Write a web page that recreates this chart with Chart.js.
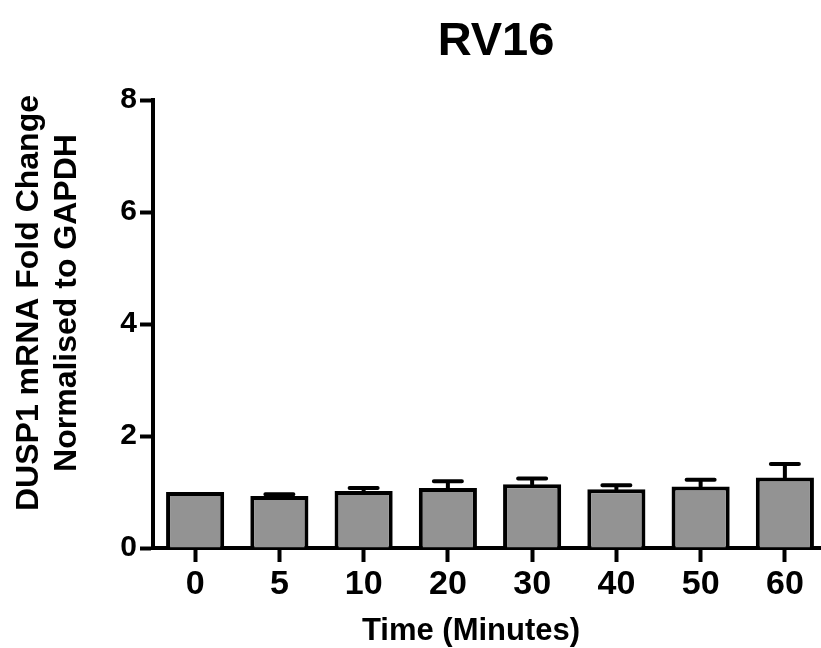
<!DOCTYPE html>
<html>
<head>
<meta charset="utf-8">
<script src="https://cdn.jsdelivr.net/npm/chart.js@4/dist/chart.umd.min.js"></script>
<style>
  html, body { margin: 0; padding: 0; background: #fff; overflow: hidden; }
  #wrap { position: relative; width: 840px; height: 648px; }
</style>
</head>
<body>
<div id="wrap"><canvas id="chart"></canvas></div>
<script>
const timePoints = ['0', '5', '10', '20', '30', '40', '50', '60'];
const foldChange = [1.0, 0.93, 1.02, 1.07, 1.14, 1.05, 1.10, 1.26];
const sem = [0, 0.03, 0.05, 0.12, 0.10, 0.07, 0.12, 0.24];
const yTicks = [0, 2, 4, 6, 8];

const FONT = 'Arial, "Liberation Sans", Helvetica, sans-serif';

// upward-only error bars, GraphPad style
const errorBars = {
    id: 'errorBars',
    afterDatasetsDraw(chart) {
        const ctx = chart.ctx;
        const y = chart.scales.y;
        const meta = chart.getDatasetMeta(0);
        ctx.save();
        ctx.strokeStyle = '#000';
        ctx.lineWidth = 4;
        ctx.lineCap = 'round';
        meta.data.forEach((bar, i) => {
            if (!sem[i]) return;
            const top = y.getPixelForValue(foldChange[i] + sem[i]);
            ctx.beginPath();
            ctx.moveTo(bar.x, bar.y);
            ctx.lineTo(bar.x, top);
            ctx.moveTo(bar.x - 14, top);
            ctx.lineTo(bar.x + 14, top);
            ctx.stroke();
        });
        ctx.restore();
    }
};

// chart title and axis titles, placed like the original figure
const titles = {
    id: 'titles',
    afterDraw(chart) {
        const ctx = chart.ctx;
        ctx.save();
        ctx.fillStyle = '#000';
        ctx.textAlign = 'center';
        ctx.textBaseline = 'alphabetic';
        ctx.font = 'bold 47px ' + FONT;
        ctx.fillText('RV16', 496, 55);
        ctx.font = 'bold 31px ' + FONT;
        ctx.fillText('Time (Minutes)', 471, 640);
        ctx.translate(0, 303);
        ctx.rotate(-Math.PI / 2);
        ctx.textBaseline = 'middle';
        ctx.font = 'bold 32px ' + FONT;
        ctx.fillText('DUSP1 mRNA Fold Change', 0, 29);
        ctx.fillText('Normalised to GAPDH', 0, 67);
        ctx.restore();
    }
};

new Chart(document.getElementById('chart'), {
    type: 'bar',
    data: {
        labels: timePoints,
        datasets: [{
            data: foldChange,
            backgroundColor: '#939393',
            borderColor: '#000',
            borderWidth: 4,
            borderSkipped: 'start',
            categoryPercentage: 1,
            barPercentage: 0.69
        }]
    },
    options: {
        responsive: true,
        maintainAspectRatio: false,
        animation: false,
        layout: { padding: { left: 0, right: 13, top: 100, bottom: 0 } },
        plugins: {
            legend: { display: false },
            tooltip: { enabled: false },
            title: { display: false }
        },
        scales: {
            x: {
                offset: true,
                grid: { offset: false, drawOnChartArea: false, drawTicks: true, tickLength: 14, tickWidth: 4, tickColor: '#000' },
                border: { color: '#000', width: 4 },
                ticks: { color: '#000', padding: 2, maxRotation: 0, font: { family: FONT, size: 34, weight: 'bold' } },
                afterFit: s => { s.height = 100; }
            },
            y: {
                min: 0,
                max: 8,
                afterBuildTicks: s => { s.ticks = yTicks.map(v => ({ value: v })); },
                grid: { drawOnChartArea: false, drawTicks: true, tickLength: 13, tickWidth: 4, tickColor: '#000' },
                border: { color: '#000', width: 4 },
                ticks: { color: '#000', padding: 3, font: { family: FONT, size: 30, weight: 'bold' } },
                afterFit: s => { s.width = 153; }
            }
        }
    },
    plugins: [errorBars, titles]
});
</script>
</body>
</html>
